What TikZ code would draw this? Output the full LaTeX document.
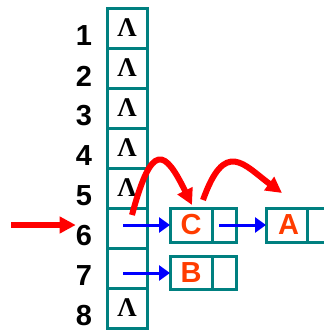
\documentclass[tikz,border=0pt]{standalone}
\usepackage{fontspec}
\setmainfont{Liberation Serif}
\newfontfamily\lsans{Liberation Sans}
\usetikzlibrary{arrows.meta}
\definecolor{teal1}{RGB}{0,128,128}
\definecolor{ored}{RGB}{255,60,0}
\begin{document}
\begin{tikzpicture}[x=1pt,y=-1pt,
 cell/.style={draw=teal1,line width=3pt,minimum width=40pt,minimum height=40pt,inner sep=0pt,outer sep=0pt,font=\bfseries\fontsize{27}{27}\selectfont},
 num/.style={font=\lsans\bfseries\fontsize{29}{29}\selectfont,inner sep=0pt},
 rec/.style={draw=teal1,line width=3pt,minimum height=34pt,inner sep=0pt,outer sep=0pt,text=ored,font=\lsans\bfseries\fontsize{29}{29}\selectfont},
 barrow/.style={blue,line width=3pt,-{Triangle[length=11pt,width=15pt]}},
 rarrow/.style={red,line width=6pt,-{Triangle[length=16pt,width=16pt]}},
]
\useasboundingbox (0,0) rectangle (324,333);
\clip (0,0) rectangle (324,333);
\foreach \i in {1,...,8} {
  \node[num] (l\i) at (84,{36+40*(\i-1)}) {\i};
}
\foreach \i in {1,2,3,4,5,8} {
  \node[cell] (c\i) at (127,{28+40*(\i-1)}) {\raisebox{-2pt}{Λ}};
}
\foreach \i in {6,7} {
  \node[cell] (c\i) at (127,{28+40*(\i-1)}) {};
}
\node[rec,minimum width=42pt] (cL) at (191,225) {\raisebox{-4pt}{C}};
\node[rec,minimum width=24pt] (cR) at (224,225) {};
\node[rec,minimum width=41pt] (aL) at (286.5,225) {\raisebox{-4pt}{\hspace*{4pt}A}};
\node[rec,minimum width=41pt] (aR) at (327.5,225) {};
\node[rec,minimum width=42pt,minimum height=33pt] (bL) at (191,272.5) {\raisebox{-2.5pt}{B}};
\node[rec,minimum width=24pt,minimum height=33pt] (bR) at (224,272.5) {};
\coordinate (s6) at (123,225);
\coordinate (s7) at (123,273);
\draw[barrow] (s6) -- (cL.west);
\draw[barrow] (s7) -- (s7 -| bL.west);
\draw[barrow] ([xshift=-5pt]cR.center) -- (aL.west);
\coordinate (r0) at (11,225);
\draw[rarrow] (r0) -- (r0 -| l6.west);
\coordinate (q1) at (132,215);
\coordinate (q2) at (192,205);
\coordinate (q3) at (203,200);
\coordinate (q4) at (282,193);
\draw[rarrow] (q1) .. controls (152,140) and (165,150) .. (q2);
\draw[rarrow] (q3) .. controls (225,138) and (244,165) .. (q4);
\end{tikzpicture}
\end{document}
